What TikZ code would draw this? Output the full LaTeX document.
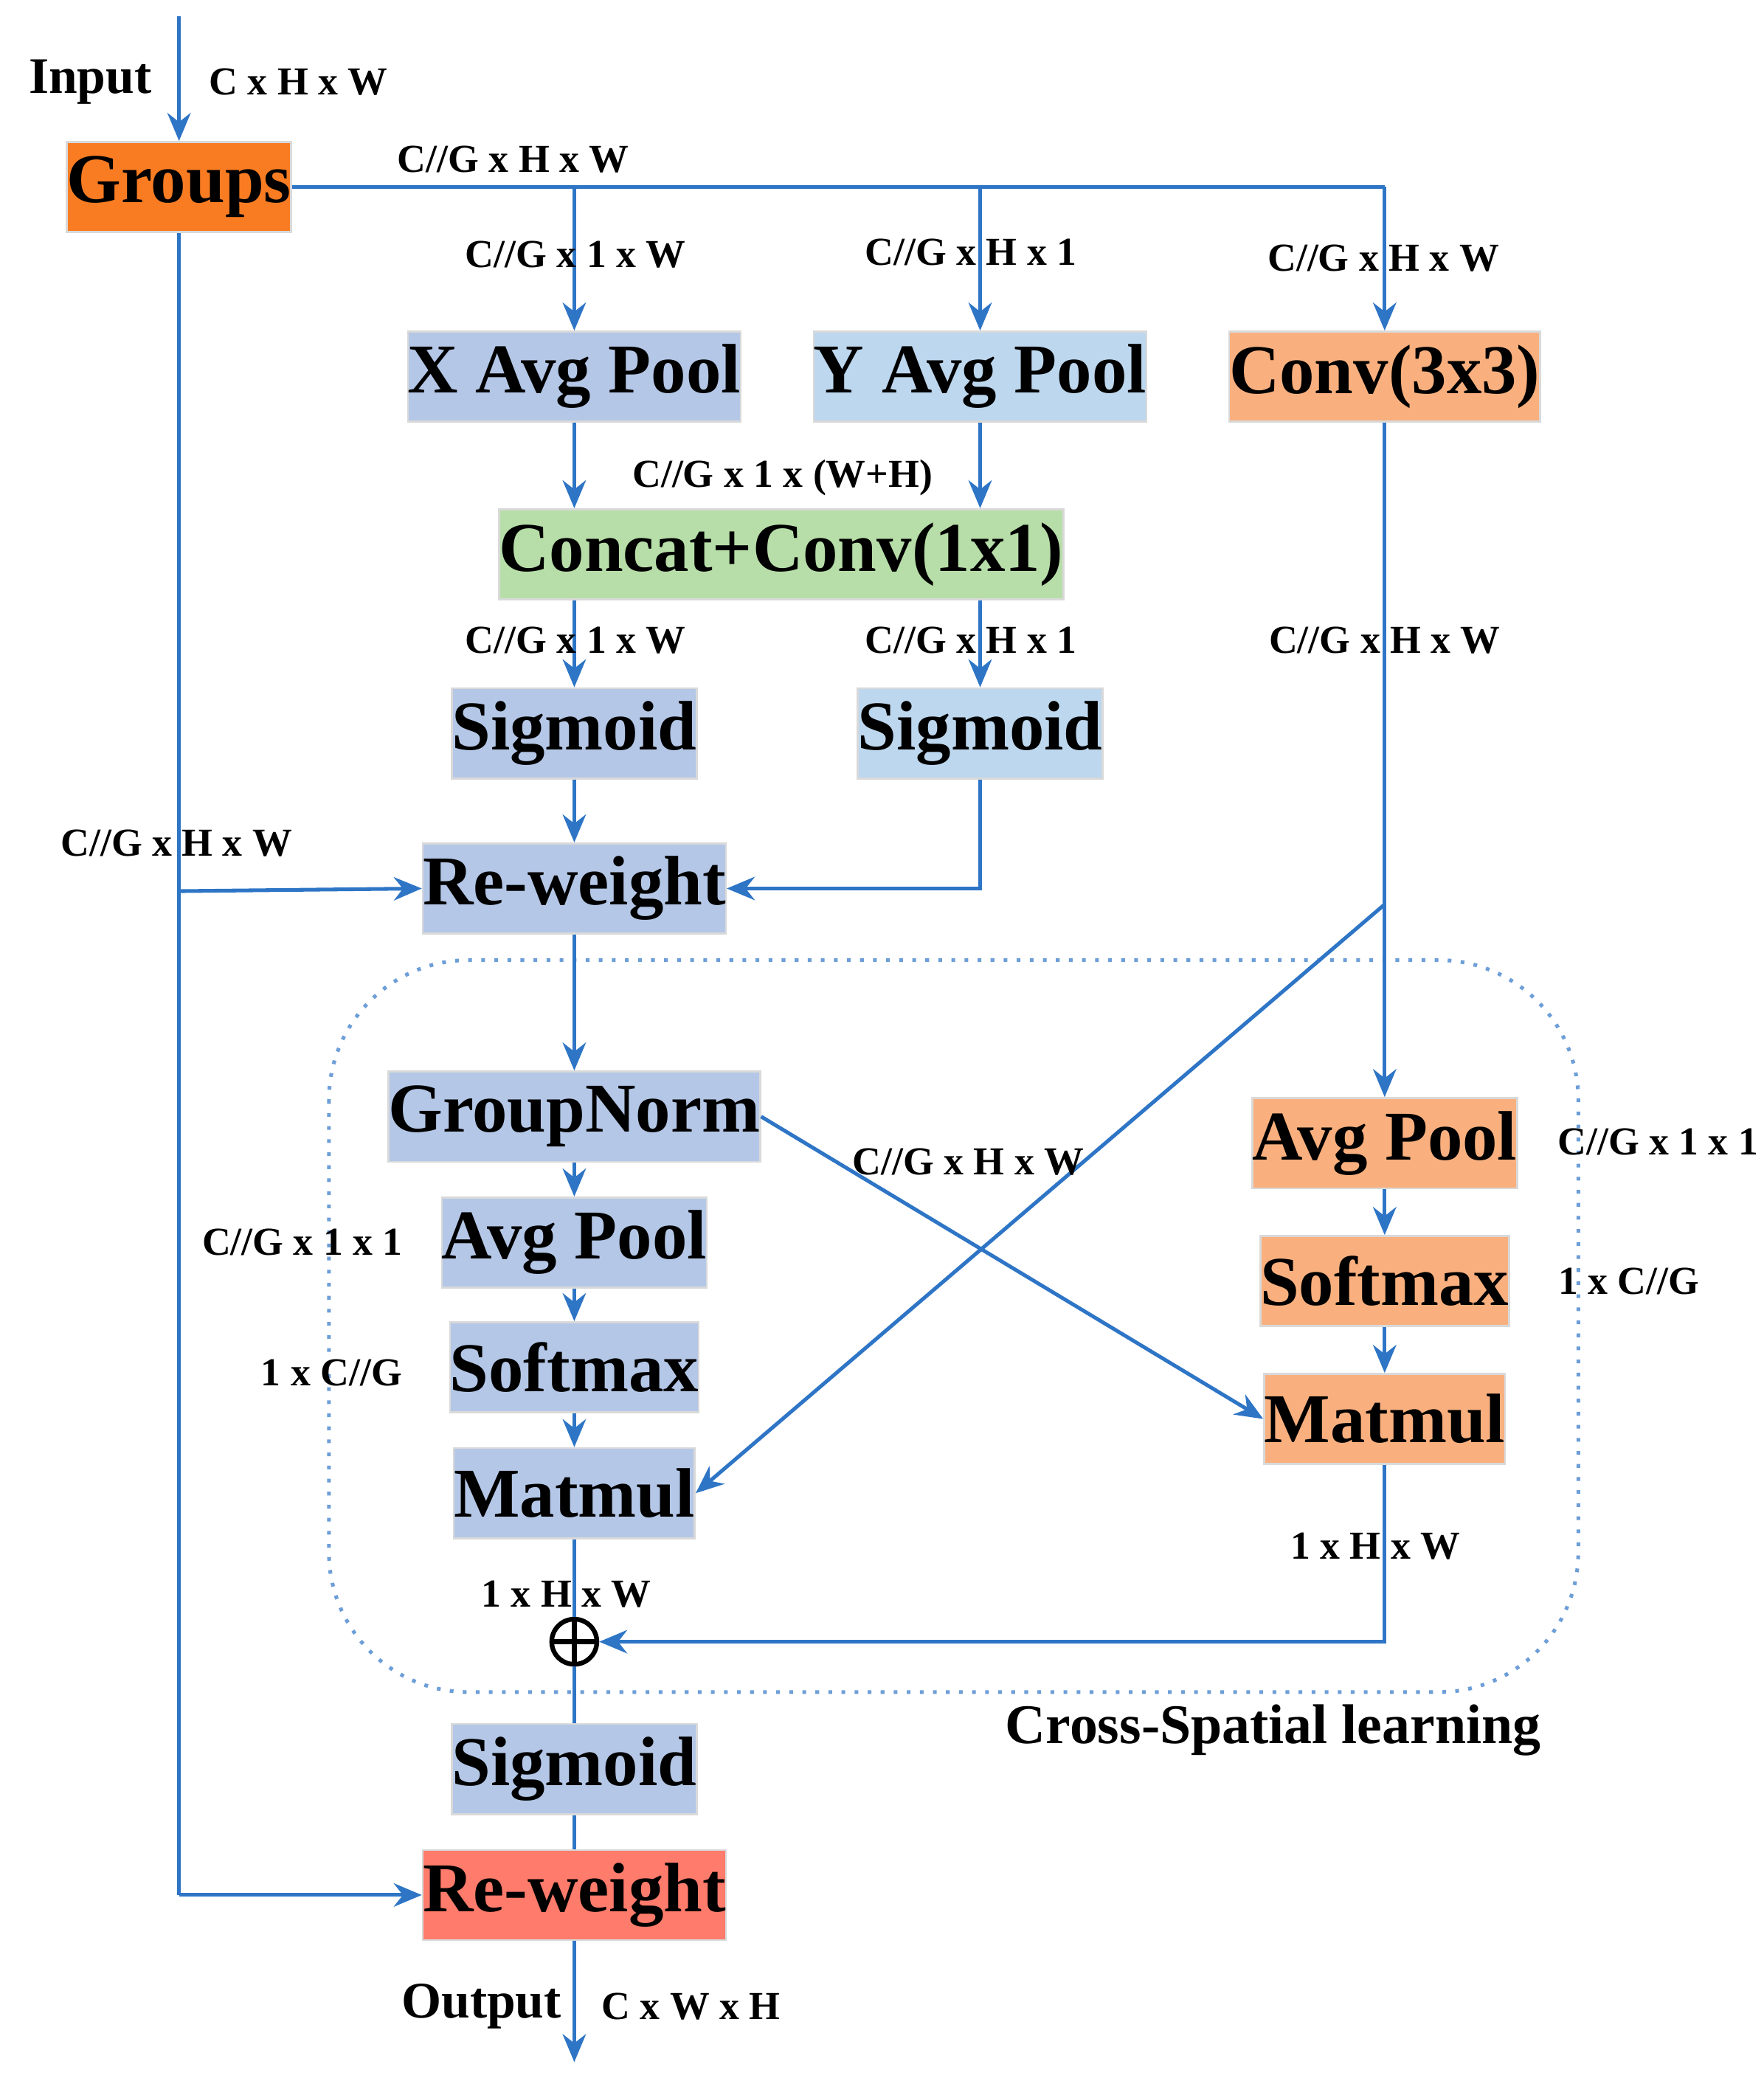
\documentclass[tikz,border=0pt]{standalone}
\usepackage{fontspec}
\setmainfont{Liberation Serif}
\usetikzlibrary{arrows.meta}
\definecolor{ln}{HTML}{2E75C6}
\definecolor{org}{HTML}{F97C22}
\definecolor{lor}{HTML}{F9B07E}
\definecolor{lbl}{HTML}{B4C7E7}
\definecolor{sky}{HTML}{BDD7EE}
\definecolor{grn}{HTML}{B7DEA8}
\definecolor{red}{HTML}{FF7B6B}
\begin{document}
\begin{tikzpicture}[x=0.01cm,y=-0.01cm,
 box/.style={draw=black!15,minimum width=250\pgflinewidth,inner sep=0pt,font=\fontsize{15}{15}\selectfont\bfseries},
 lab/.style={font=\fontsize{8.5}{9}\selectfont\bfseries,inner sep=1pt},
 ar/.style={draw=ln,line width=0.8pt,-{Stealth[length=6pt,width=5pt]}},
 pl/.style={draw=ln,line width=0.8pt}]
\useasboundingbox (0,0) rectangle (1330,1567);
\tikzset{mk/.style args={#1/#2}{box,fill=#1,minimum width=#2*0.01cm,minimum height=0.68cm}}
\node[mk=org/2.5] (grp) at (135,141) {Groups};
\node[mk=lbl/2.5] (xap) at (433,284) {X Avg Pool};
\node[mk=sky/2.5] (yap) at (739,284) {Y Avg Pool};
\node[mk=lor/2.5] (conv) at (1044,284) {Conv(3x3)};
\node[mk=grn/5.61] (cat) at (589,418) {Concat+Conv(1x1)};
\node[mk=lbl/2.5] (sg1) at (433,553) {Sigmoid};
\node[mk=sky/2.5] (sg2) at (739,553) {Sigmoid};
\node[mk=lbl/2.5] (rw1) at (433,670) {Re-weight};
\draw[ln!70,dotted,thick,rounded corners=30] (248,724) rectangle (1190,1276);
\node[mk=lbl/2.5] (gn) at (433,842) {GroupNorm};
\node[mk=lbl/2.5] (apl) at (433,937) {Avg Pool};
\node[mk=lbl/2.5] (sml) at (433,1031) {Softmax};
\node[mk=lbl/2.5] (mml) at (433,1126) {Matmul};
\node[mk=lor/2.5] (apr) at (1044,862) {Avg Pool};
\node[mk=lor/2.5] (smr) at (1044,966) {Softmax};
\node[mk=lor/2.5] (mmr) at (1044,1070) {Matmul};
\node[circle,draw=black,line width=1pt,minimum size=0.34cm,inner sep=0pt] (pls) at (433,1238) {};
\draw[line width=1.2pt] (pls.north)--(pls.south) (pls.west)--(pls.east);
\node[mk=lbl/2.5] (sg3) at (433,1334) {Sigmoid};
\node[mk=red/2.5] (rw2) at (433,1429) {Re-weight};
\coordinate (in) at (135,12);
\coordinate (out) at (433,1555);
\coordinate (tr) at (1044,141);
\coordinate (lx) at (433,141);
\coordinate (ly) at (739,141);
\coordinate (ll) at (135,1429);
\coordinate (lm) at (135,672);
\coordinate (dg) at (1044,682);
% connectors
\draw[ar] (in)--(grp.north);
\draw[pl] (grp.east)--(tr);
\draw[ar] (tr)--(conv.north);
\draw[ar] (lx)--(xap.north);
\draw[ar] (ly)--(yap.north);
\draw[ar] (xap.south)--(cat.north-|xap);
\draw[ar] (yap.south)--(cat.north-|yap);
\draw[ar] (cat.south-|sg1)--(sg1.north);
\draw[ar] (cat.south-|sg2)--(sg2.north);
\draw[ar] (sg1)--(rw1);
\draw[ar] (sg2.south)|-(rw1.east);
\draw[pl] (grp.south)--(ll);
\draw[ar] (ll)--(rw2.west);
\draw[ar] (lm)--(rw1.west);
\draw[ar] (conv.south)--(apr.north);
\draw[ar] (dg)--(mml.east);
\draw[ar] (gn.east)--(mmr.west);
\draw[ar] (rw1)--(gn);
\draw[ar] (gn)--(apl);
\draw[ar] (apl)--(sml);
\draw[ar] (sml)--(mml);
\draw[ar] (apr)--(smr);
\draw[ar] (smr)--(mmr);
\draw[pl] (mml.south)--(pls.north);
\draw[ar] (mmr.south)|-(pls.east);
\draw[pl] (pls.south)--(sg3.north);
\draw[pl] (sg3)--(rw2);
\draw[ar] (rw2.south)--(out);
% labels
\node[lab,font=\fontsize{11}{11}\selectfont\bfseries] at (68,62) {Input};
\node[lab] at (225,62) {C x H x W};
\node[lab] at (387,120) {C//G x H x W};
\node[lab] at (434,192) {C//G x 1 x W};
\node[lab] at (732,190) {C//G x H x 1};
\node[lab] at (1043,195) {C//G x H x W};
\node[lab] at (590,360) {C//G x 1 x (W+H)};
\node[lab] at (434,483) {C//G x 1 x W};
\node[lab] at (732,483) {C//G x H x 1};
\node[lab] at (1044,483) {C//G x H x W};
\node[lab] at (133,636) {C//G x H x W};
\node[lab] at (730,876) {C//G x H x W};
\node[lab] at (1250,861) {C//G x 1 x 1};
\node[lab] at (1228,966) {1 x C//G};
\node[lab] at (228,937) {C//G x 1 x 1};
\node[lab] at (250,1035) {1 x C//G};
\node[lab] at (1037,1166) {1 x H x W};
\node[lab] at (427,1202) {1 x H x W};
\node[lab,font=\fontsize{12}{12}\selectfont\bfseries] at (960,1305) {Cross-Spatial learning};
\node[lab,font=\fontsize{11}{11}\selectfont\bfseries] at (363,1513) {Output};
\node[lab] at (521,1513) {C x W x H};
\end{tikzpicture}
\end{document}
